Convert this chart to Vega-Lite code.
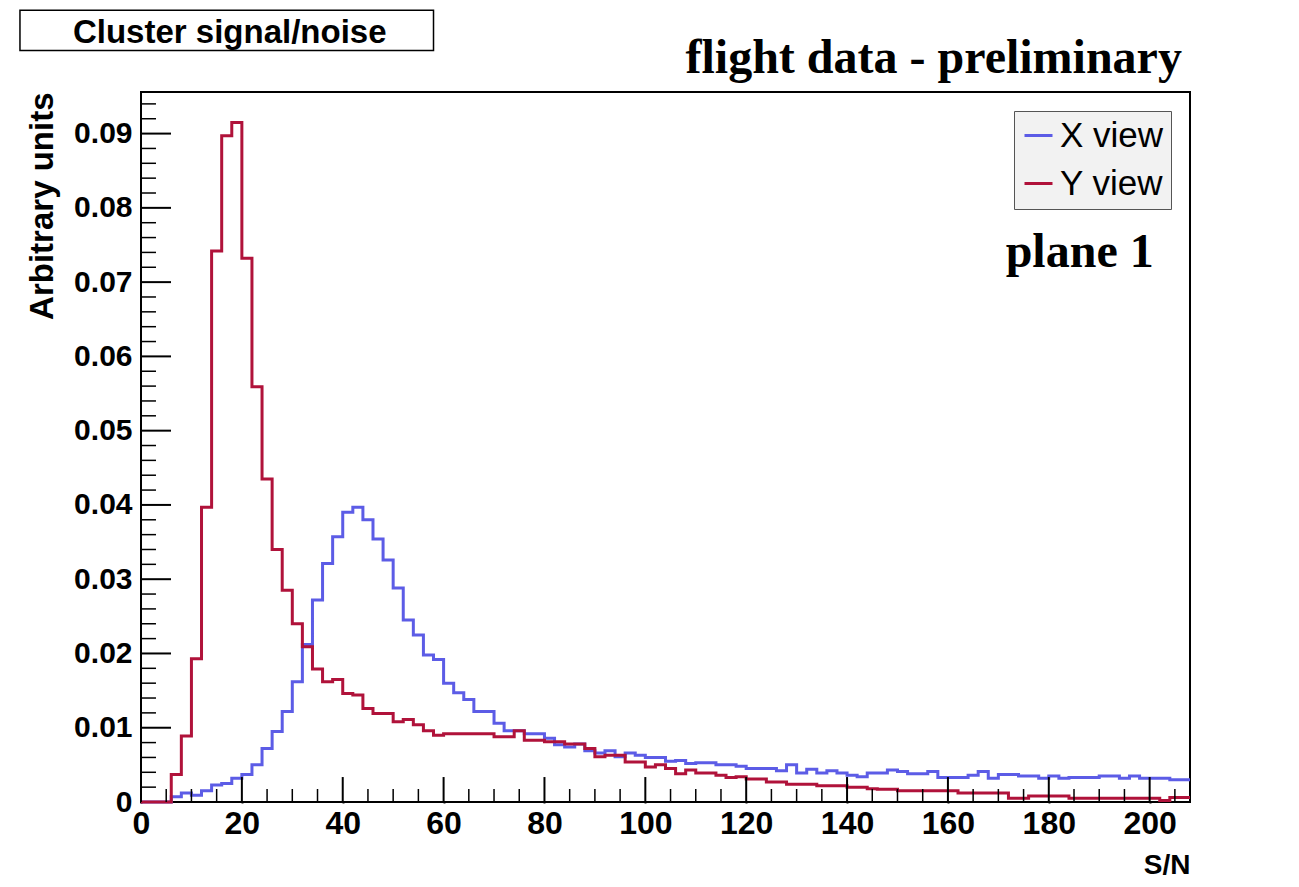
{
  "$schema": "https://vega.github.io/schema/vega-lite/v6.json",
  "width": 1049,
  "height": 710,
  "autosize": {"type": "none"},
  "padding": {"left": 141, "top": 92, "right": 109, "bottom": 85},
  "background": "white",
  "config": {"view": {"stroke": "black", "strokeWidth": 2}, "font": "Liberation Sans"},
  "datasets": {
    "xmajor": [{"t":0},{"t":20},{"t":40},{"t":60},{"t":80},{"t":100},{"t":120},{"t":140},{"t":160},{"t":180},{"t":200}],
    "xminor": [{"t":5},{"t":10},{"t":15},{"t":25},{"t":30},{"t":35},{"t":45},{"t":50},{"t":55},{"t":65},{"t":70},{"t":75},{"t":85},{"t":90},{"t":95},{"t":105},{"t":110},{"t":115},{"t":125},{"t":130},{"t":135},{"t":145},{"t":150},{"t":155},{"t":165},{"t":170},{"t":175},{"t":185},{"t":190},{"t":195},{"t":205}],
    "ymajor": [{"t":0.01},{"t":0.02},{"t":0.03},{"t":0.04},{"t":0.05},{"t":0.06},{"t":0.07},{"t":0.08},{"t":0.09}],
    "yminor": [{"t":0.002},{"t":0.004},{"t":0.006},{"t":0.008},{"t":0.012},{"t":0.014},{"t":0.016},{"t":0.018},{"t":0.022},{"t":0.024},{"t":0.026},{"t":0.028},{"t":0.032},{"t":0.034},{"t":0.036},{"t":0.038},{"t":0.042},{"t":0.044},{"t":0.046},{"t":0.048},{"t":0.052},{"t":0.054},{"t":0.056},{"t":0.058},{"t":0.062},{"t":0.064},{"t":0.066},{"t":0.068},{"t":0.072},{"t":0.074},{"t":0.076},{"t":0.078},{"t":0.082},{"t":0.084},{"t":0.086},{"t":0.088},{"t":0.092},{"t":0.094}],
    "hist": [
    {"view":"X view","sn":0,"value":0},{"view":"X view","sn":2,"value":0},{"view":"X view","sn":4,"value":0},{"view":"X view","sn":6,"value":0.0007},{"view":"X view","sn":8,"value":0.0012},{"view":"X view","sn":10,"value":0.0009},{"view":"X view","sn":12,"value":0.0015},{"view":"X view","sn":14,"value":0.0023},{"view":"X view","sn":16,"value":0.0025},{"view":"X view","sn":18,"value":0.0032},{"view":"X view","sn":20,"value":0.0037},{"view":"X view","sn":22,"value":0.0050},{"view":"X view","sn":24,"value":0.0072},{"view":"X view","sn":26,"value":0.0095},{"view":"X view","sn":28,"value":0.0122},{"view":"X view","sn":30,"value":0.0162},{"view":"X view","sn":32,"value":0.0212},{"view":"X view","sn":34,"value":0.0272},{"view":"X view","sn":36,"value":0.0321},{"view":"X view","sn":38,"value":0.0357},{"view":"X view","sn":40,"value":0.0390},{"view":"X view","sn":42,"value":0.0397},{"view":"X view","sn":44,"value":0.0380},{"view":"X view","sn":46,"value":0.0354},{"view":"X view","sn":48,"value":0.0326},{"view":"X view","sn":50,"value":0.0288},{"view":"X view","sn":52,"value":0.0245},{"view":"X view","sn":54,"value":0.0225},{"view":"X view","sn":56,"value":0.0198},{"view":"X view","sn":58,"value":0.0192},{"view":"X view","sn":60,"value":0.0160},{"view":"X view","sn":62,"value":0.0147},{"view":"X view","sn":64,"value":0.0138},{"view":"X view","sn":66,"value":0.0122},{"view":"X view","sn":68,"value":0.0122},{"view":"X view","sn":70,"value":0.0106},{"view":"X view","sn":72,"value":0.0096},{"view":"X view","sn":74,"value":0.0096},{"view":"X view","sn":76,"value":0.0092},{"view":"X view","sn":78,"value":0.0092},{"view":"X view","sn":80,"value":0.0086},{"view":"X view","sn":82,"value":0.0077},{"view":"X view","sn":84,"value":0.0074},{"view":"X view","sn":86,"value":0.0078},{"view":"X view","sn":88,"value":0.0069},{"view":"X view","sn":90,"value":0.0066},{"view":"X view","sn":92,"value":0.0069},{"view":"X view","sn":94,"value":0.0061},{"view":"X view","sn":96,"value":0.0066},{"view":"X view","sn":98,"value":0.0063},{"view":"X view","sn":100,"value":0.0060},{"view":"X view","sn":102,"value":0.0060},{"view":"X view","sn":104,"value":0.0055},{"view":"X view","sn":106,"value":0.0056},{"view":"X view","sn":108,"value":0.0052},{"view":"X view","sn":110,"value":0.0053},{"view":"X view","sn":112,"value":0.0053},{"view":"X view","sn":114,"value":0.0050},{"view":"X view","sn":116,"value":0.0050},{"view":"X view","sn":118,"value":0.0048},{"view":"X view","sn":120,"value":0.0045},{"view":"X view","sn":122,"value":0.0045},{"view":"X view","sn":124,"value":0.0045},{"view":"X view","sn":126,"value":0.0042},{"view":"X view","sn":128,"value":0.0050},{"view":"X view","sn":130,"value":0.0039},{"view":"X view","sn":132,"value":0.0044},{"view":"X view","sn":134,"value":0.0039},{"view":"X view","sn":136,"value":0.0042},{"view":"X view","sn":138,"value":0.0039},{"view":"X view","sn":140,"value":0.0036},{"view":"X view","sn":142,"value":0.0034},{"view":"X view","sn":144,"value":0.0039},{"view":"X view","sn":146,"value":0.0039},{"view":"X view","sn":148,"value":0.0043},{"view":"X view","sn":150,"value":0.0041},{"view":"X view","sn":152,"value":0.0038},{"view":"X view","sn":154,"value":0.0038},{"view":"X view","sn":156,"value":0.0041},{"view":"X view","sn":158,"value":0.0033},{"view":"X view","sn":160,"value":0.0033},{"view":"X view","sn":162,"value":0.0033},{"view":"X view","sn":164,"value":0.0036},{"view":"X view","sn":166,"value":0.0041},{"view":"X view","sn":168,"value":0.0032},{"view":"X view","sn":170,"value":0.0037},{"view":"X view","sn":172,"value":0.0037},{"view":"X view","sn":174,"value":0.0035},{"view":"X view","sn":176,"value":0.0035},{"view":"X view","sn":178,"value":0.0032},{"view":"X view","sn":180,"value":0.0035},{"view":"X view","sn":182,"value":0.0032},{"view":"X view","sn":184,"value":0.0033},{"view":"X view","sn":186,"value":0.0033},{"view":"X view","sn":188,"value":0.0033},{"view":"X view","sn":190,"value":0.0035},{"view":"X view","sn":192,"value":0.0035},{"view":"X view","sn":194,"value":0.0032},{"view":"X view","sn":196,"value":0.0035},{"view":"X view","sn":198,"value":0.0032},{"view":"X view","sn":200,"value":0.0032},{"view":"X view","sn":202,"value":0.0032},{"view":"X view","sn":204,"value":0.0030},{"view":"X view","sn":206,"value":0.0030},{"view":"X view","sn":208,"value":0.0030},
    {"view":"Y view","sn":0,"value":0},{"view":"Y view","sn":2,"value":0},{"view":"Y view","sn":4,"value":0},{"view":"Y view","sn":6,"value":0.0037},{"view":"Y view","sn":8,"value":0.0089},{"view":"Y view","sn":10,"value":0.0193},{"view":"Y view","sn":12,"value":0.0397},{"view":"Y view","sn":14,"value":0.0742},{"view":"Y view","sn":16,"value":0.0897},{"view":"Y view","sn":18,"value":0.0915},{"view":"Y view","sn":20,"value":0.0732},{"view":"Y view","sn":22,"value":0.0559},{"view":"Y view","sn":24,"value":0.0435},{"view":"Y view","sn":26,"value":0.0340},{"view":"Y view","sn":28,"value":0.0285},{"view":"Y view","sn":30,"value":0.0240},{"view":"Y view","sn":32,"value":0.0209},{"view":"Y view","sn":34,"value":0.0179},{"view":"Y view","sn":36,"value":0.0162},{"view":"Y view","sn":38,"value":0.0165},{"view":"Y view","sn":40,"value":0.0146},{"view":"Y view","sn":42,"value":0.0144},{"view":"Y view","sn":44,"value":0.0126},{"view":"Y view","sn":46,"value":0.0119},{"view":"Y view","sn":48,"value":0.0119},{"view":"Y view","sn":50,"value":0.0108},{"view":"Y view","sn":52,"value":0.0111},{"view":"Y view","sn":54,"value":0.0104},{"view":"Y view","sn":56,"value":0.0096},{"view":"Y view","sn":58,"value":0.0090},{"view":"Y view","sn":60,"value":0.0092},{"view":"Y view","sn":62,"value":0.0092},{"view":"Y view","sn":64,"value":0.0092},{"view":"Y view","sn":66,"value":0.0092},{"view":"Y view","sn":68,"value":0.0092},{"view":"Y view","sn":70,"value":0.0088},{"view":"Y view","sn":72,"value":0.0088},{"view":"Y view","sn":74,"value":0.0096},{"view":"Y view","sn":76,"value":0.0083},{"view":"Y view","sn":78,"value":0.0083},{"view":"Y view","sn":80,"value":0.0081},{"view":"Y view","sn":82,"value":0.0081},{"view":"Y view","sn":84,"value":0.0078},{"view":"Y view","sn":86,"value":0.0078},{"view":"Y view","sn":88,"value":0.0072},{"view":"Y view","sn":90,"value":0.0061},{"view":"Y view","sn":92,"value":0.0063},{"view":"Y view","sn":94,"value":0.0063},{"view":"Y view","sn":96,"value":0.0054},{"view":"Y view","sn":98,"value":0.0054},{"view":"Y view","sn":100,"value":0.0047},{"view":"Y view","sn":102,"value":0.0050},{"view":"Y view","sn":104,"value":0.0045},{"view":"Y view","sn":106,"value":0.0038},{"view":"Y view","sn":108,"value":0.0043},{"view":"Y view","sn":110,"value":0.0039},{"view":"Y view","sn":112,"value":0.0039},{"view":"Y view","sn":114,"value":0.0036},{"view":"Y view","sn":116,"value":0.0033},{"view":"Y view","sn":118,"value":0.0034},{"view":"Y view","sn":120,"value":0.0031},{"view":"Y view","sn":122,"value":0.0031},{"view":"Y view","sn":124,"value":0.0027},{"view":"Y view","sn":126,"value":0.0027},{"view":"Y view","sn":128,"value":0.0024},{"view":"Y view","sn":130,"value":0.0024},{"view":"Y view","sn":132,"value":0.0024},{"view":"Y view","sn":134,"value":0.0022},{"view":"Y view","sn":136,"value":0.0022},{"view":"Y view","sn":138,"value":0.0022},{"view":"Y view","sn":140,"value":0.0020},{"view":"Y view","sn":142,"value":0.0020},{"view":"Y view","sn":144,"value":0.0018},{"view":"Y view","sn":146,"value":0.0017},{"view":"Y view","sn":148,"value":0.0017},{"view":"Y view","sn":150,"value":0.0015},{"view":"Y view","sn":152,"value":0.0015},{"view":"Y view","sn":154,"value":0.0015},{"view":"Y view","sn":156,"value":0.0015},{"view":"Y view","sn":158,"value":0.0015},{"view":"Y view","sn":160,"value":0.0015},{"view":"Y view","sn":162,"value":0.0012},{"view":"Y view","sn":164,"value":0.0012},{"view":"Y view","sn":166,"value":0.0012},{"view":"Y view","sn":168,"value":0.0012},{"view":"Y view","sn":170,"value":0.0012},{"view":"Y view","sn":172,"value":0.0005},{"view":"Y view","sn":174,"value":0.0005},{"view":"Y view","sn":176,"value":0.0008},{"view":"Y view","sn":178,"value":0.0008},{"view":"Y view","sn":180,"value":0.0008},{"view":"Y view","sn":182,"value":0.0008},{"view":"Y view","sn":184,"value":0.0005},{"view":"Y view","sn":186,"value":0.0005},{"view":"Y view","sn":188,"value":0.0005},{"view":"Y view","sn":190,"value":0.0005},{"view":"Y view","sn":192,"value":0.0005},{"view":"Y view","sn":194,"value":0.0005},{"view":"Y view","sn":196,"value":0.0005},{"view":"Y view","sn":198,"value":0.0005},{"view":"Y view","sn":200,"value":0.0005},{"view":"Y view","sn":202,"value":0.0002},{"view":"Y view","sn":204,"value":0.0006},{"view":"Y view","sn":206,"value":0.0006},{"view":"Y view","sn":208,"value":0.0006}
  ]},
  "layer": [
    {
      "data": {"name": "hist"},
      "mark": {"type": "line", "interpolate": "step-after", "strokeWidth": 3},
      "encoding": {
        "x": {"field": "sn", "type": "quantitative", "scale": {"domain": [0, 208], "nice": false, "zero": false},
          "axis": {"orient": "bottom", "values": [0,20,40,60,80,100,120,140,160,180,200], "format": "d", "grid": false, "domain": false, "ticks": true, "tickSize": 1, "tickColor": "#000000", "tickWidth": 2, "title": "S/N", "titleFontSize": 28, "titleFontWeight": "bold", "titleColor": "black", "titleAnchor": "end", "titlePadding": 12, "labelFontSize": 32, "labelFontWeight": "bold", "labelColor": "black", "labelPadding": 5, "labelFlush": false, "labelOverlap": false}},
        "y": {"field": "value", "type": "quantitative", "scale": {"domain": [0, 0.0956], "nice": false},
          "axis": {"orient": "left", "values": [0,0.01,0.02,0.03,0.04,0.05,0.06,0.07,0.08,0.09], "labelExpr": "datum.value == 0 ? '0' : format(datum.value, '.2f')", "grid": false, "domain": false, "ticks": true, "tickSize": 1, "tickColor": "#000000", "tickWidth": 2, "title": "Arbitrary units", "titleFontSize": 33, "titleFontWeight": "bold", "titleColor": "black", "titleAnchor": "end", "titlePadding": 14, "labelFontSize": 30, "labelFontWeight": "bold", "labelColor": "black", "labelPadding": 8, "labelOverlap": false, "labelFlush": false}},
        "color": {"field": "view", "type": "nominal",
          "scale": {"domain": ["X view", "Y view"], "range": ["#5c5ce6", "#b0123a"]},
          "legend": {"title": null, "orient": "top-right", "offset": 19, "padding": 7, "fillColor": "#f2f2f2", "strokeColor": "#555555", "symbolType": "stroke", "symbolSize": 784, "symbolStrokeWidth": 3, "labelFontSize": 35, "labelColor": "black", "labelFont": "Liberation Sans", "labelOffset": 4, "rowPadding": 12}}
      }
    },
    {
      "data": {"name": "xmajor"},
      "mark": {"type": "rule", "strokeWidth": 2, "stroke": "#000000"},
      "encoding": {
        "x": {"field": "t", "type": "quantitative"},
        "y": {"datum": 0, "type": "quantitative"},
        "y2": {"datum": 0.00336}
      }
    },
    {
      "data": {"name": "yminor"},
      "mark": {"type": "rule", "strokeWidth": 1.5, "stroke": "#000000"},
      "encoding": {
        "y": {"field": "t", "type": "quantitative"},
        "x": {"datum": 0, "type": "quantitative"},
        "x2": {"datum": 2.97}
      }
    },
    {
      "data": {"name": "xminor"},
      "mark": {"type": "rule", "strokeWidth": 1.5, "stroke": "#000000"},
      "encoding": {
        "x": {"field": "t", "type": "quantitative"},
        "y": {"datum": 0, "type": "quantitative"},
        "y2": {"datum": 0.00175}
      }
    },
    {
      "data": {"name": "ymajor"},
      "mark": {"type": "rule", "strokeWidth": 2, "stroke": "#000000"},
      "encoding": {
        "y": {"field": "t", "type": "quantitative"},
        "x": {"datum": 0, "type": "quantitative"},
        "x2": {"datum": 5.95}
      }
    },
    {
      "data": {"values": [{"label": "Cluster signal/noise"}]},
      "mark": {"type": "rect", "fill": "white", "stroke": "black", "strokeWidth": 1.5},
      "encoding": {
        "x": {"datum": -24, "type": "quantitative"},
        "x2": {"datum": 58},
        "y": {"datum": 0.1066, "type": "quantitative"},
        "y2": {"datum": 0.1012}
      }
    },
    {
      "data": {"values": [{"label": "Cluster signal/noise"}]},
      "mark": {"type": "text", "fontSize": 33, "fontWeight": "bold", "font": "Liberation Sans", "align": "center", "baseline": "alphabetic", "color": "black"},
      "encoding": {
        "x": {"datum": 17.6, "type": "quantitative"},
        "y": {"datum": 0.1022, "type": "quantitative"},
        "text": {"field": "label"}
      }
    },
    {
      "data": {"values": [{"label": "flight data - preliminary", "px": 206.4, "py": 0.0981}, {"label": "plane 1", "px": 200.8, "py": 0.0720}]},
      "mark": {"type": "text", "fontSize": 48, "fontWeight": "bold", "font": "Liberation Serif", "align": "right", "baseline": "alphabetic", "color": "black"},
      "encoding": {
        "x": {"field": "px", "type": "quantitative"},
        "y": {"field": "py", "type": "quantitative"},
        "text": {"field": "label"}
      }
    }
  ]
}
